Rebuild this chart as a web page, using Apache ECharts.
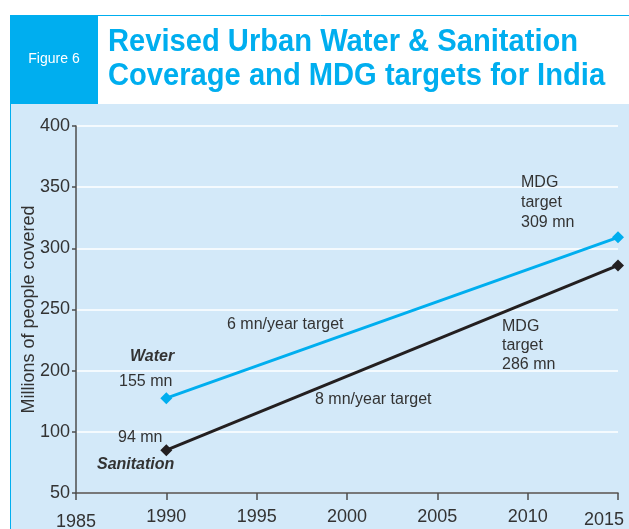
<!DOCTYPE html>
<html>
<head>
<meta charset="utf-8">
<script src="https://cdn.jsdelivr.net/npm/echarts@6/dist/echarts.min.js"></script>
<style>
  html, body { margin: 0; padding: 0; background: #fff; }
  #chart { width: 629px; height: 529px; }
</style>
</head>
<body>
<div id="chart"></div>
<script>
// data
var years = [1990, 2015];
var waterValues = [155, 309];
var sanitationValues = [85, 286];
var yTicks = [50, 100, 200, 250, 300, 350, 400]; // axis is not linear, ticks evenly spaced
var xTicks = [1985, 1990, 1995, 2000, 2005, 2010, 2015];

// place a value on the evenly spaced tick scale
function toAxis(v) {
  for (var i = 0; i < yTicks.length - 1; i++) {
    if (v <= yTicks[i + 1]) {
      return i + (v - yTicks[i]) / (yTicks[i + 1] - yTicks[i]);
    }
  }
  return yTicks.length - 1;
}
function pairs(values) {
  return years.map(function (y, i) { return [y, toAxis(values[i])]; });
}

var blue = '#00aeef';
var txt = '#333333';
var font = 'Liberation Sans, Arial, sans-serif';

var myChart = echarts.init(document.getElementById('chart'));
var option = {
  backgroundColor: '#ffffff',
  textStyle: { fontFamily: font },
  grid: { left: 76, right: 11, top: 126, bottom: 36, containLabel: false, outerBoundsMode: 'none' },
  xAxis: {
    type: 'value',
    min: xTicks[0],
    max: xTicks[xTicks.length - 1],
    interval: 5,
    splitLine: { show: false },
    axisLine: { show: true, lineStyle: { color: '#4d4d4d', width: 1.5 } },
    axisTick: { show: true, inside: false, length: 7, lineStyle: { color: '#4d4d4d', width: 1.5 } },
    axisLabel: {
      margin: 15,
      color: txt,
      fontSize: 18,
      fontFamily: font,
      hideOverlap: false,
      formatter: function (v) {
        if (v === xTicks[0]) return '{low|' + v + '}';
        if (v === xTicks[xTicks.length - 1]) return '{last|' + v + '}';
        return '' + v;
      },
      rich: {
        low: { fontSize: 18, color: txt, fontFamily: font, padding: [5, 0, 0, 0] },
        last: { fontSize: 18, color: txt, fontFamily: font, padding: [3, 28, 0, 0] }
      }
    }
  },
  yAxis: {
    type: 'value',
    min: 0,
    max: yTicks.length - 1,
    interval: 1,
    name: 'Millions of people covered',
    nameLocation: 'middle',
    nameRotate: 90,
    nameGap: 38,
    nameMoveOverlap: false,
    nameTextStyle: { color: txt, fontSize: 18, fontFamily: font },
    axisLine: { show: true, lineStyle: { color: '#4d4d4d', width: 1.5 } },
    axisTick: { show: true, length: 4, lineStyle: { color: '#4d4d4d', width: 1.5 } },
    axisLabel: {
      margin: 6,
      color: txt,
      fontSize: 18,
      fontFamily: font,
      formatter: function (v) { return '' + yTicks[Math.round(v)]; }
    },
    splitLine: { show: true, lineStyle: { color: '#ffffff', width: 1.5 } }
  },
  series: [
    {
      name: 'Water',
      type: 'line',
      data: pairs(waterValues),
      symbol: 'diamond',
      symbolSize: 12,
      lineStyle: { color: blue, width: 3 },
      itemStyle: { color: blue },
      z: 3
    },
    {
      name: 'Sanitation',
      type: 'line',
      data: pairs(sanitationValues),
      symbol: 'diamond',
      symbolSize: 12,
      lineStyle: { color: '#231f20', width: 3 },
      itemStyle: { color: '#231f20' },
      z: 3
    }
  ],
  graphic: [
    // panel background and frame
    { type: 'rect', z: -10, shape: { x: 10, y: 104, width: 619, height: 425 }, style: { fill: '#d3e9f9' } },
    { type: 'rect', z: -10, shape: { x: 10, y: 15, width: 88, height: 89 }, style: { fill: blue } },
    { type: 'rect', z: -10, shape: { x: 10.5, y: 15.5, width: 630, height: 530 }, style: { fill: 'none', stroke: blue, lineWidth: 1 } },
    { type: 'text', z: 10, style: { x: 54, y: 59, text: 'Figure 6', fill: '#ffffff', font: '14px ' + font, textAlign: 'center', textVerticalAlign: 'middle' } },
    { type: 'text', z: 10, x: 108, y: 42, scaleX: 0.94, style: { x: 0, y: 0, text: 'Revised Urban Water & Sanitation', fill: blue, font: 'bold 31px ' + font, textVerticalAlign: 'middle' } },
    { type: 'text', z: 10, x: 108, y: 76, scaleX: 0.94, style: { x: 0, y: 0, text: 'Coverage and MDG targets for India', fill: blue, font: 'bold 31px ' + font, textVerticalAlign: 'middle' } },
    // annotations
    { type: 'text', z: 10, style: { x: 521, y: 173, text: 'MDG\ntarget\n309 mn', fill: txt, font: '16px ' + font, lineHeight: 20 } },
    { type: 'text', z: 10, style: { x: 502, y: 317, text: 'MDG\ntarget\n286 mn', fill: txt, font: '16px ' + font, lineHeight: 19 } },
    { type: 'text', z: 10, style: { x: 227, y: 325, text: '6 mn/year target', fill: txt, font: '16px ' + font, textVerticalAlign: 'middle' } },
    { type: 'text', z: 10, style: { x: 315, y: 400, text: '8 mn/year target', fill: txt, font: '16px ' + font, textVerticalAlign: 'middle' } },
    { type: 'text', z: 10, style: { x: 130, y: 357, text: 'Water', fill: txt, font: 'italic bold 16px ' + font, textVerticalAlign: 'middle' } },
    { type: 'text', z: 10, style: { x: 119, y: 382, text: '155 mn', fill: txt, font: '16px ' + font, textVerticalAlign: 'middle' } },
    { type: 'text', z: 10, style: { x: 118, y: 438, text: '94 mn', fill: txt, font: '16px ' + font, textVerticalAlign: 'middle' } },
    { type: 'text', z: 10, style: { x: 97, y: 465, text: 'Sanitation', fill: txt, font: 'italic bold 16px ' + font, textVerticalAlign: 'middle' } }
  ]
};
myChart.setOption(option);
</script>
</body>
</html>
